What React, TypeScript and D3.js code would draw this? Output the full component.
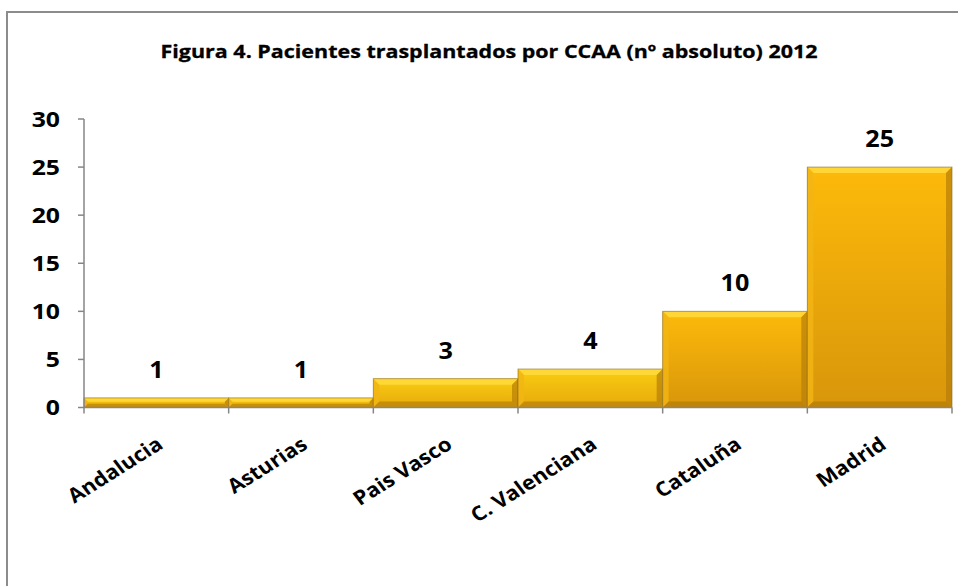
import React from "react";
import { scaleBand, scaleLinear } from "d3";

const regions = ["Andalucia", "Asturias", "Pais Vasco", "C. Valenciana", "Cataluña", "Madrid"];
const patients = [1, 1, 3, 4, 10, 25];
const yTicks = [0, 5, 10, 15, 20, 25, 30];

const font = "'Open Sans', sans-serif";
// the source picture is stretched sideways, so the type gets a horizontal scale too
const sx = 1.18;
const labelSx = 1.1;
const labelAngle = 32;

export default function App() {
  const width = 958;
  const height = 586;
  const x = scaleBand<string>().domain(regions).range([84, 952]).padding(0);
  const y = scaleLinear().domain([0, 30]).range([407.5, 119]);
  const base = y(0);
  // angle before the x stretch, so the screen angle comes out at labelAngle
  const rot = (Math.atan(Math.tan((labelAngle * Math.PI) / 180) * labelSx) * 180) / Math.PI;

  return (
    <svg
      width={width}
      height={height}
      viewBox={`0 0 ${width} ${height}`}
      style={{ position: "fixed", left: 0, top: 0, background: "#fff" }}
    >
      <defs>
        <linearGradient id="barFill" x1="0" y1="0" x2="0" y2="1">
          <stop offset="0" stopColor="#fdba0a" />
          <stop offset="1" stopColor="#d8960b" />
        </linearGradient>
        <linearGradient id="shortFill" x1="0" y1="0" x2="0" y2="1">
          <stop offset="0" stopColor="#f9cd12" />
          <stop offset="1" stopColor="#e7a90c" />
        </linearGradient>
      </defs>
      <rect x={0} y={0} width={width} height={height} fill="#fff" />
      {/* chart frame, cropped at right and bottom */}
      <path d={`M7 ${height + 2} V12 H${width + 2}`} fill="none" stroke="#8c8c8c" strokeWidth={2} />

      <text
        x={489}
        y={58}
        textAnchor="middle"
        fontFamily={font}
        fontWeight="bold"
        fontSize={18.5}
        textLength={657}
        lengthAdjust="spacingAndGlyphs"
        fill="#000"
        stroke="#000"
        strokeWidth={0.3}
      >
        Figura 4. Pacientes trasplantados por CCAA (nº absoluto) 2012
      </text>

      {/* bars */}
      {regions.map((r, i) => {
        const v = patients[i];
        const x0 = x(r)!;
        const w = x.bandwidth();
        const top = y(v);
        const h = base - top;
        const b = Math.min(6, h / 2.5);
        const x1 = x0 + w;
        return (
          <g key={r}>
            <rect x={x0} y={top} width={w} height={h} fill={h < 40 ? "url(#shortFill)" : "url(#barFill)"} />
            <path d={`M${x0} ${top} H${x1} L${x1 - b} ${top + b} H${x0 + b} Z`} fill="#ffd93a" opacity={0.9} />
            <path d={`M${x0} ${top} L${x0 + b} ${top + b} V${base - b} L${x0} ${base} Z`} fill="#f2b514" opacity={0.8} />
            <path d={`M${x1} ${top} L${x1 - b} ${top + b} V${base - b} L${x1} ${base} Z`} fill="#b67d08" opacity={0.7} />
            <path d={`M${x0} ${base} H${x1} L${x1 - b} ${base - b} H${x0 + b} Z`} fill="#a97306" opacity={0.55} />
            <rect x={x0} y={top} width={w} height={h} fill="none" stroke="#8a6a1e" strokeOpacity={0.6} strokeWidth={1} />
            <text
              transform={`translate(${x0 + w / 2},${top - 20}) scale(1.05,1)`}
              textAnchor="middle"
              fontFamily={font}
              fontWeight="bold"
              fontSize={24}
              fill="#000"
            >
              {v}
            </text>
          </g>
        );
      })}

      {/* y axis */}
      <line x1={84} x2={84} y1={y(30)} y2={base} stroke="#868686" strokeWidth={1.5} />
      {yTicks.map((t) => (
        <g key={t}>
          <line x1={78} x2={84} y1={y(t)} y2={y(t)} stroke="#868686" strokeWidth={1.5} />
          <text
            transform={`translate(60,${y(t) + 7.5}) scale(${sx},1)`}
            textAnchor="end"
            fontFamily={font}
            fontWeight="bold"
            fontSize={21}
            fill="#000"
          >
            {t}
          </text>
        </g>
      ))}

      {/* x axis */}
      <line x1={84} x2={952} y1={base} y2={base} stroke="#868686" strokeWidth={1.5} />
      {[...regions.map((r) => x(r)!), 952].map((px, i) => (
        <line key={i} x1={px} x2={px} y1={base} y2={base + 6} stroke="#868686" strokeWidth={1.5} />
      ))}
      {regions.map((r) => {
        const cx = x(r)! + x.bandwidth() / 2 + 8;
        const cy = base + 40;
        return (
          <text
            key={r}
            transform={`translate(${cx},${cy}) scale(${labelSx},1) rotate(${-rot})`}
            textAnchor="end"
            fontFamily={font}
            fontWeight="bold"
            fontSize={20}
            fill="#000"
          >
            {r}
          </text>
        );
      })}
    </svg>
  );
}
